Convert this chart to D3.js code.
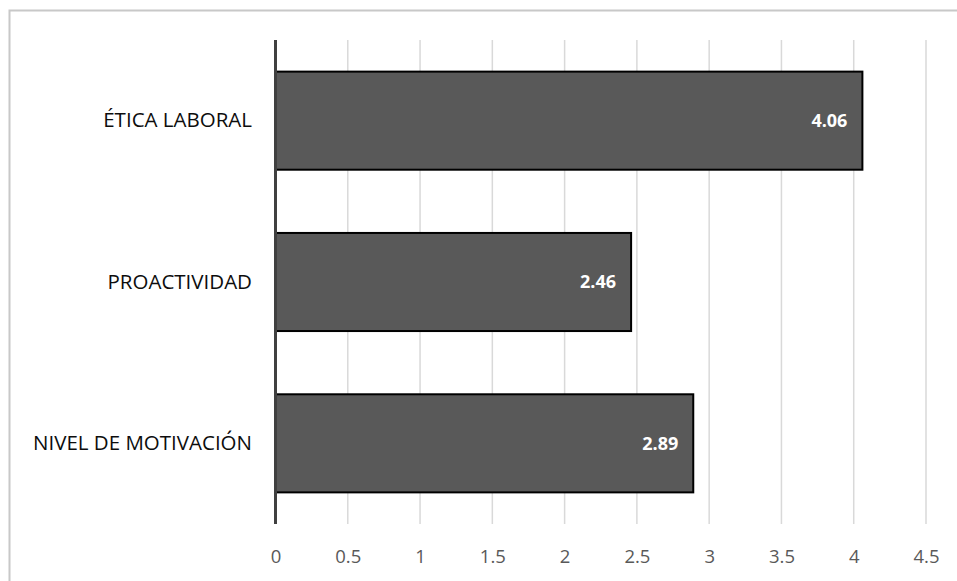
<!DOCTYPE html>
<html><head><meta charset="utf-8">
<script src="https://cdn.jsdelivr.net/npm/d3@7"></script>
<style>body{margin:0;background:#fff}svg{display:block}</style>
</head><body>
<script>
const categories = ["ÉTICA LABORAL", "PROACTIVIDAD", "NIVEL DE MOTIVACIÓN"];
const values = [4.06, 2.46, 2.89];
const ticks = [0, 0.5, 1, 1.5, 2, 2.5, 3, 3.5, 4, 4.5];

const W = 957, H = 581;
const font = "'Open Sans', sans-serif";
const svg = d3.select("body").append("svg").attr("width", W).attr("height", H);

svg.append("rect").attr("x", 9.5).attr("y", 10.5).attr("width", 960).attr("height", 600)
  .attr("fill", "#fff").attr("stroke", "#c8c8c8").attr("stroke-width", 2);

const x = d3.scaleLinear().domain([0, 4.5]).range([275.5, 926]);
const y = d3.scaleBand().domain(categories).range([40, 524]).paddingInner(0.392).paddingOuter(0.196);

// gridlines
svg.append("g").selectAll("line").data(ticks.slice(1)).join("line")
  .attr("x1", d => x(d)).attr("x2", d => x(d)).attr("y1", 40).attr("y2", 524)
  .attr("stroke", "#d9d9d9").attr("stroke-width", 1.5);

// bars
svg.append("g").selectAll("rect").data(values).join("rect")
  .attr("x", x(0)).attr("y", (d, i) => y(categories[i]))
  .attr("width", d => x(d) - x(0)).attr("height", y.bandwidth())
  .attr("fill", "#595959").attr("stroke", "#000").attr("stroke-width", 2);

// axis line
svg.append("line").attr("x1", x(0)).attr("x2", x(0)).attr("y1", 40).attr("y2", 524)
  .attr("stroke", "#404040").attr("stroke-width", 3);

// x tick labels
const xAxis = d3.axisBottom(x).tickValues(ticks).tickSize(0).tickPadding(0).tickFormat(d => String(d));
const gx = svg.append("g").attr("transform", "translate(0,563)").call(xAxis);
gx.select(".domain").remove();
gx.selectAll("text").attr("dy", 0).attr("font-family", font).attr("font-size", 18.5).attr("fill", "#595959");

// category labels
const yAxis = d3.axisLeft(y).tickSize(0).tickPadding(0);
const gy = svg.append("g").attr("transform", "translate(252,0)").call(yAxis);
gy.select(".domain").remove();
gy.selectAll("text").attr("font-family", font).attr("font-size", 20.5).attr("fill", "#0d0d0d");

// value labels
svg.append("g").selectAll("text").data(values).join("text")
  .attr("x", d => x(d) - 15).attr("y", (d, i) => y(categories[i]) + y.bandwidth() / 2)
  .attr("dy", "0.35em").attr("text-anchor", "end")
  .attr("font-family", font).attr("font-size", 18).attr("font-weight", "bold").attr("fill", "#fff")
  .text(d => d.toFixed(2));
</script>
</body></html>
